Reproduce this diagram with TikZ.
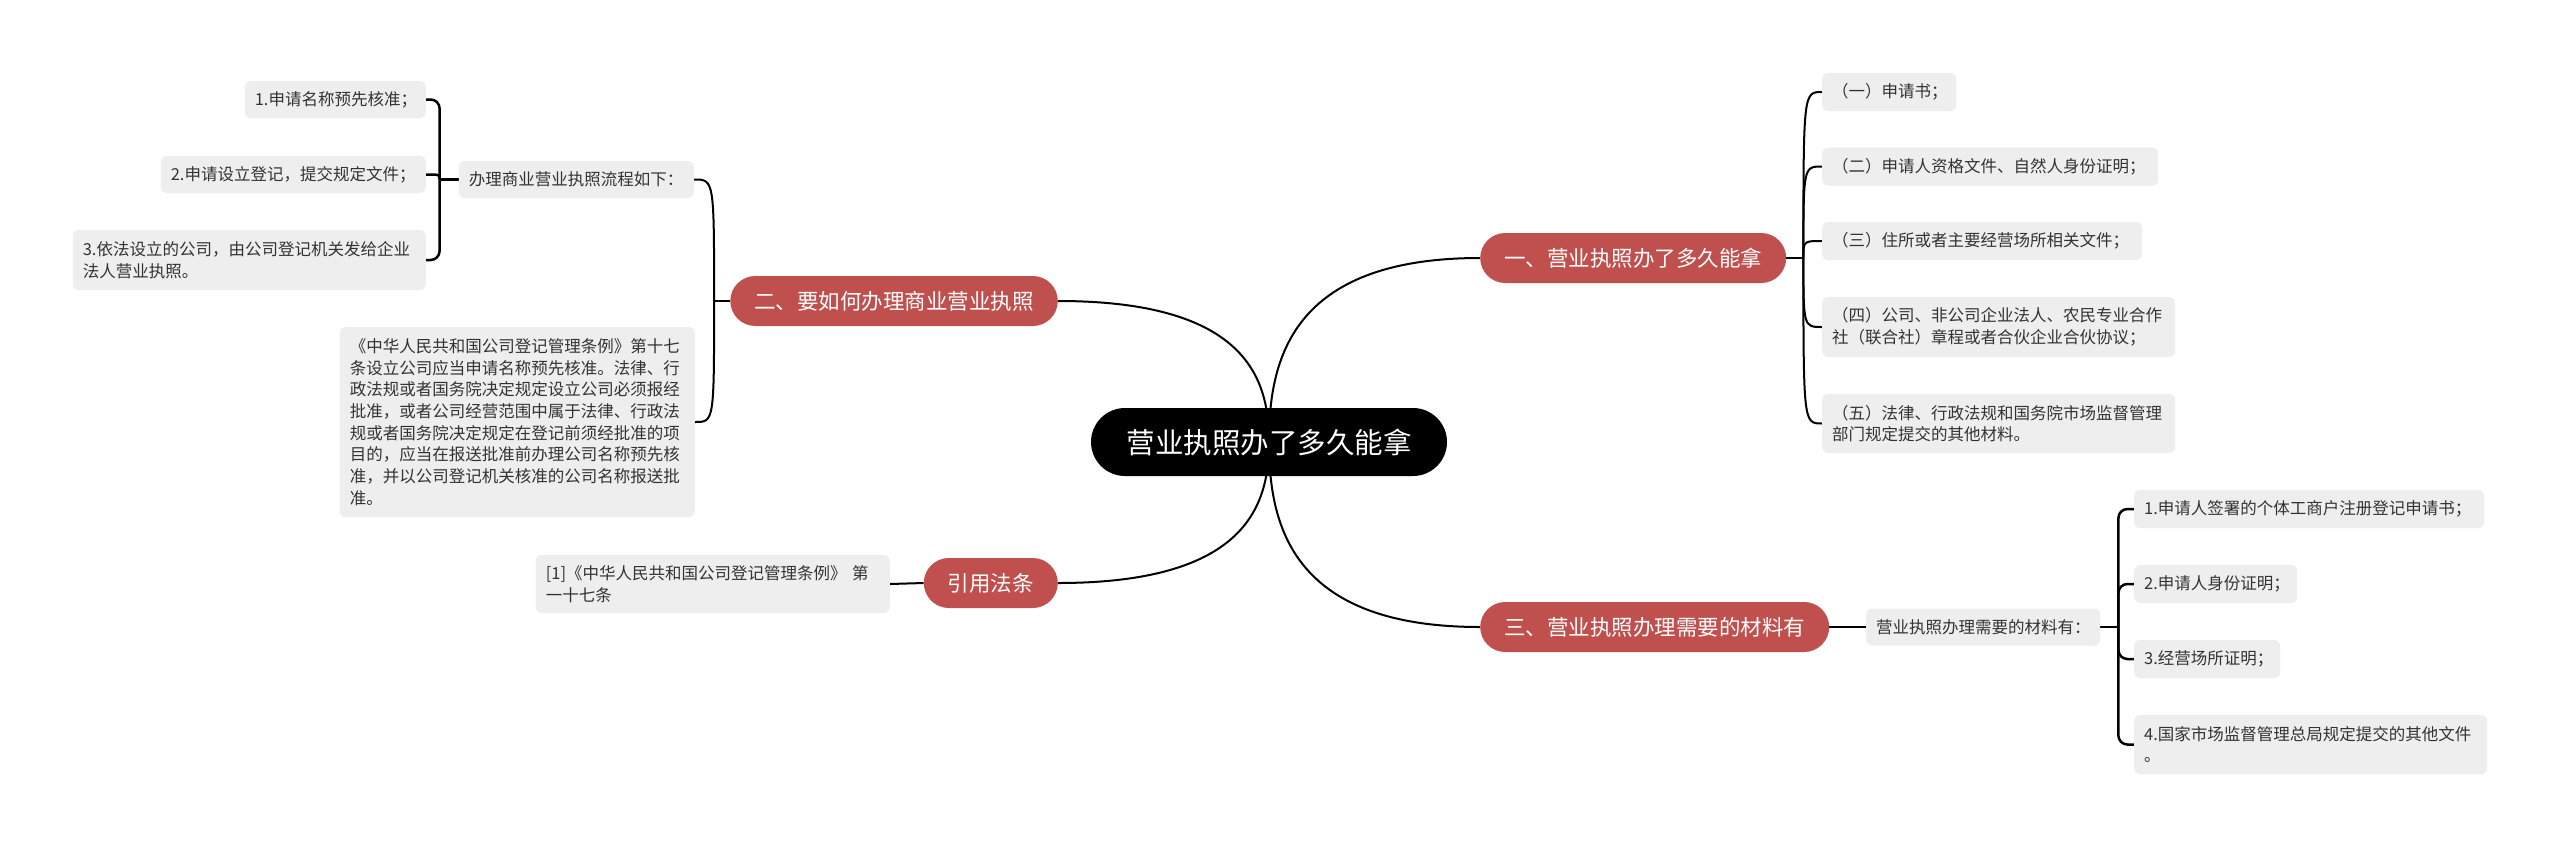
\documentclass[tikz,border=0pt]{standalone}
\usepackage{fontspec}
\setmainfont{Noto Sans CJK SC}
\usetikzlibrary{calc}
\definecolor{branchred}{RGB}{192,80,77}
\definecolor{leafgray}{RGB}{238,238,238}
\definecolor{leaftext}{RGB}{51,51,51}
\pgfdeclarelayer{bg}
\pgfsetlayers{bg,main}
\begin{document}
\begin{tikzpicture}[x=1pt,y=-1pt,
  rootnode/.style={fill=black, text=white, rounded corners=34pt, minimum width=356pt, minimum height=68pt, inner sep=0pt, font=\fontsize{28.5}{34}\selectfont},
  branchnode/.style={fill=branchred, text=white, rounded corners=25pt, minimum height=50pt, inner xsep=24pt, inner ysep=0pt, font=\fontsize{21.5}{26}\selectfont},
  leaf/.style={fill=leafgray, text=leaftext, rounded corners=6pt, inner xsep=10pt, inner ysep=0pt, align=left, minimum height=37pt, font=\fontsize{16.5}{21.7}\selectfont},
  link/.style={line width=2pt, black},
  bracket/.style={line width=2.5pt, black, rounded corners=9pt}
]
\useasboundingbox (0,0) rectangle (2560,847);

% root and branches
\node[rootnode] (root) at (1269,442) {营业执照办了多久能拿};
\node[branchnode, anchor=west] (b1) at (1480,258) {一、营业执照办了多久能拿};
\node[branchnode, anchor=east] (b2) at (1058,301) {二、要如何办理商业营业执照};
\node[branchnode, anchor=east] (b3) at (1058,583) {引用法条};
\node[branchnode, anchor=west] (b4) at (1480,627) {三、营业执照办理需要的材料有};

% left side
\node[leaf, anchor=east, text width=215pt] (p) at (694,179.5) {办理商业营业执照流程如下：};
\node[leaf, anchor=east, text width=161pt] (l1) at (426,99.5) {1.申请名称预先核准；};
\node[leaf, anchor=east, text width=245pt] (l2) at (426,174.5) {2.申请设立登记，提交规定文件；};
\node[leaf, anchor=east, text width=333pt, minimum height=60pt] (l3) at (426,260) {3.依法设立的公司，由公司登记机关发给企业\\法人营业执照。};
\node[leaf, anchor=east, text width=335pt, minimum height=190pt] (big) at (695,422) {《中华人民共和国公司登记管理条例》第十七\\条设立公司应当申请名称预先核准。法律、行\\政法规或者国务院决定规定设立公司必须报经\\批准，或者公司经营范围中属于法律、行政法\\规或者国务院决定规定在登记前须经批准的项\\目的，应当在报送批准前办理公司名称预先核\\准，并以公司登记机关核准的公司名称报送批\\准。};
\node[leaf, anchor=east, text width=334pt, minimum height=58pt] (ref) at (890,584) {[1]《中华人民共和国公司登记管理条例》 第\\一十七条};

% right side, branch one
\node[leaf, anchor=west, text width=114pt, minimum height=38pt] (r1) at (1822,92) {（一）申请书；};
\node[leaf, anchor=west, text width=316pt, minimum height=38pt] (r2) at (1822,166.5) {（二）申请人资格文件、自然人身份证明；};
\node[leaf, anchor=west, text width=300pt, minimum height=38pt] (r3) at (1822,241) {（三）住所或者主要经营场所相关文件；};
\node[leaf, anchor=west, text width=333pt, minimum height=60pt] (r4) at (1822,327) {（四）公司、非公司企业法人、农民专业合作\\社（联合社）章程或者合伙企业合伙协议；};
\node[leaf, anchor=west, text width=333pt, minimum height=59pt] (r5) at (1822,423.5) {（五）法律、行政法规和国务院市场监督管理\\部门规定提交的其他材料。};

% right side, branch three
\node[leaf, anchor=west, text width=214pt] (m) at (1866,627) {营业执照办理需要的材料有：};
\node[leaf, anchor=west, text width=330pt, minimum height=38pt] (m1) at (2134,509) {1.申请人签署的个体工商户注册登记申请书；};
\node[leaf, anchor=west, text width=143pt, minimum height=38pt] (m2) at (2134,584) {2.申请人身份证明；};
\node[leaf, anchor=west, text width=126pt, minimum height=38pt] (m3) at (2134,659) {3.经营场所证明；};
\node[leaf, anchor=west, text width=333pt, minimum height=59pt] (m4) at (2134,744.5) {4.国家市场监督管理总局规定提交的其他文件\\。};

\begin{pgfonlayer}{bg}
\fill[white] (0,0) rectangle (2560,847);
% level 1 curves
\foreach \b/\a in {b1/west, b4/west, b2/east, b3/east}{
  \draw[link] (root.center) .. controls ($(root.center)!0.44!(root.center |- \b.\a)$) and ($(\b.\a)!0.9!(root.center |- \b.\a)$) .. (\b.\a);
}
% branch one to its leaves
\coordinate (t1) at ($(b1.east)+(17,0)$);
\draw[link] (b1.east) -- (t1);
\foreach \n in {r1,r2,r3,r4,r5}{
  \draw[link] (t1) .. controls (t1 |- \n.west) .. (\n.west);
}
% branch two
\coordinate (t2) at ($(b2.west)+(-16,0)$);
\draw[link] (b2.west) -- (t2);
\draw[link] (t2) .. controls (t2 |- p.east) .. (p.east);
\draw[link] (t2) .. controls (t2 |- big.east) .. (big.east);
% branch 引用法条
\draw[link] (b3.west) -- (ref.east);
% branch three
\draw[link] (b4.east) -- (m.west);
% process bracket
\coordinate (tp) at ($(p.west)+(-19,0)$);
\draw[bracket] (p.west) -- (tp);
\draw[bracket] (tp) |- (l1.east);
\draw[bracket, rounded corners=0pt] (tp) .. controls (tp |- l2.east) .. (l2.east);
\draw[bracket] (tp) |- (l3.east);
% materials bracket
\coordinate (tm) at ($(m.east)+(18,0)$);
\draw[bracket] (m.east) -- (tm);
\foreach \n in {m1,m2,m3,m4}{
  \draw[bracket] (tm) |- (\n.west);
}
\end{pgfonlayer}
\end{tikzpicture}
\end{document}
